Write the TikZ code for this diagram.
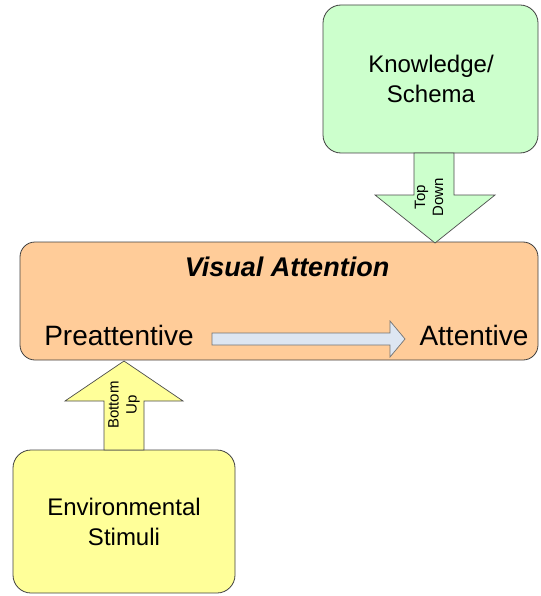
\documentclass[tikz,border=0pt]{standalone}
\usepackage{fontspec}
\setmainfont{Liberation Sans}
\begin{document}
\begin{tikzpicture}[x=1pt,y=-1pt,
  box/.style={draw=black!75, line width=0.8pt, rounded corners=18pt},
  blk/.style={draw=black!70, line width=0.7pt, line join=miter},
  lbl/.style={inner sep=0pt, align=center, font=\fontsize{24}{30}\selectfont},
  big/.style={inner sep=0pt, font=\fontsize{28}{32}\selectfont},
  rot/.style={inner sep=0pt, align=center, rotate=90, font=\fontsize{15}{18}\selectfont}]
\definecolor{kgreen}{HTML}{CCFFCC}
\definecolor{eyellow}{HTML}{FFFF99}
\definecolor{vorange}{HTML}{FFCC99}
\definecolor{pblue}{HTML}{DDE6F2}
\useasboundingbox (0,0) rectangle (540,596);
\clip (0,0) rectangle (540,596);
% boxes
\draw[box, fill=kgreen] (323,5) rectangle (538,153);
\draw[box, fill=vorange, rounded corners=15pt] (20,242) rectangle (538,360);
\draw[box, fill=eyellow] (13,450) rectangle (235,593);
% top-down arrow
\draw[blk, fill=kgreen] (414,153) -- (454,153) -- (454,195) -- (495,195) -- (435,243) -- (375,195) -- (414,195) -- cycle;
% bottom-up arrow
\draw[blk, fill=eyellow] (104,450) -- (144,450) -- (144,401) -- (183,401) -- (124,361) -- (65,401) -- (104,401) -- cycle;
% horizontal arrow
\draw[blk, draw=black!55, fill=pblue] (212,333) -- (390,333) -- (390,321) -- (405,339) -- (390,357) -- (390,345) -- (212,345) -- cycle;
% texts
\node[lbl] (k) at (431,79) {Knowledge/\\Schema};
\node[lbl] (e) at (124,522) {Environmental\\Stimuli};
\node[big, font=\fontsize{27}{32}\selectfont\bfseries\itshape] (v) at (287,267) {Visual Attention};
\node[big] (p) at (119,335) {Preattentive};
\node[big] (a) at (474,335) {Attentive};
\node[rot] (td) at (429,197) {Top\\Down};
\node[rot] (bu) at (124,405) {Bottom\\Up};
\end{tikzpicture}
\end{document}
